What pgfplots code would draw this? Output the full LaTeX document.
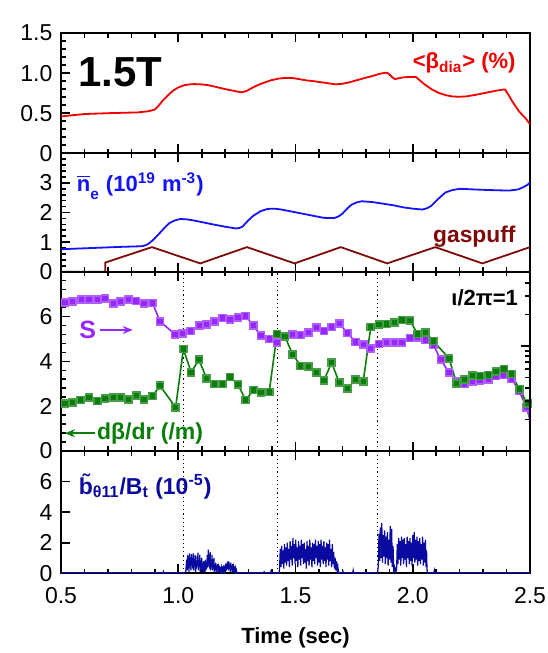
\documentclass[border=0pt]{standalone}
\usepackage{fontspec}
\setmainfont{Liberation Sans}
\usepackage{pgfplots}
\pgfplotsset{compat=1.18}
\usetikzlibrary{arrows.meta}
\definecolor{betared}{RGB}{240,0,0}
\definecolor{neblue}{RGB}{20,20,250}
\definecolor{gasred}{RGB}{128,10,10}
\definecolor{spurple}{RGB}{150,40,255}
\definecolor{dbgreen}{RGB}{10,125,10}
\definecolor{btblue}{RGB}{10,10,160}
\pgfplotsset{
  panel/.style={
    scale only axis, width=234.5pt, anchor=south west,
    xmin=0.5, xmax=2.5,
    xtick={0.5,1,1.5,2,2.5}, minor x tick num=4,
    tick align=inside, ytick pos=left, xtick pos=both,
    axis line style={line width=1pt},
    tick style={line width=0.8pt, black},
    major tick length=4.5pt, minor tick length=2.3pt,
    ticklabel style={font=\fontsize{11.5}{13}\selectfont},
    yticklabel style={xshift=-0.8pt},
    xticklabel=\empty,
  },
  vdot/.style={black, line width=0.55pt, dash pattern=on 0.6pt off 1.5pt},
}
\begin{document}
\begin{tikzpicture}
\useasboundingbox (-30.5pt,-39.85pt) rectangle (243pt,286.65pt);
% ---------- panel 1 ----------
\begin{axis}[panel, at={(0,210pt)}, height=60.15pt,
  ymin=0, ymax=1.5, ytick={0,0.5,1,1.5}, yticklabels={0,0.5,1.0,1.5},
  minor y tick num=4]
\addplot[betared, line width=0.9pt] coordinates {
(0.5,0.46)(0.55,0.475)(0.604,0.49)(0.70,0.50)(0.828,0.51)(0.875,0.525)(0.888,0.536)(0.90,0.545)(0.915,0.59)(0.932,0.65)(0.955,0.72)(0.977,0.78)(1.00,0.82)(1.022,0.846)(1.045,0.858)(1.067,0.863)(1.095,0.86)(1.126,0.85)(1.165,0.825)(1.20,0.80)(1.235,0.78)(1.268,0.76)(1.29,0.775)(1.305,0.80)(1.335,0.845)(1.365,0.88)(1.395,0.91)(1.425,0.93)(1.455,0.94)(1.484,0.94)(1.515,0.925)(1.544,0.91)(1.575,0.90)(1.60,0.89)(1.635,0.875)(1.67,0.86)(1.695,0.865)(1.723,0.88)(1.76,0.91)(1.797,0.94)(1.83,0.965)(1.857,0.99)(1.875,1.0)(1.89,1.005)(1.90,0.985)(1.912,0.95)(1.924,0.925)(1.94,0.935)(1.96,0.947)(1.985,0.952)(2.014,0.95)(2.03,0.91)(2.05,0.86)(2.08,0.80)(2.11,0.754)(2.14,0.725)(2.17,0.708)(2.20,0.705)(2.23,0.71)(2.27,0.73)(2.32,0.76)(2.355,0.78)(2.387,0.795)(2.394,0.796)(2.41,0.72)(2.424,0.65)(2.44,0.58)(2.454,0.52)(2.48,0.44)(2.5,0.364)};
\node[anchor=west, inner sep=0, font=\fontsize{21}{23}\selectfont\bfseries] at (rel axis cs:0.036,0.676) {1.5T};
\node[anchor=east, inner sep=0, text=betared, font=\fontsize{11}{13}\selectfont\bfseries] at (rel axis cs:0.970,0.75) {<β\textsubscript{dia}> (\%)};
\node[anchor=base east, inner sep=0, font=\fontsize{10.3}{12}\selectfont\bfseries] at (rel axis cs:1,1) [yshift=3pt] {Shot\#50925};
\end{axis}
% ---------- panel 2 ----------
\begin{axis}[panel, at={(0,150.8pt)}, height=59.2pt,
  ymin=0, ymax=4, ytick={0,1,2,3,4}, yticklabels={0,1,2,3,},
  minor y tick num=4]
\addplot[neblue, line width=0.9pt] coordinates {
(0.5,0.76)(0.6,0.79)(0.679,0.815)(0.76,0.84)(0.843,0.86)(0.86,0.89)(0.873,0.94)(0.895,1.09)(0.918,1.28)(0.94,1.47)(0.962,1.64)(0.985,1.73)(1.007,1.78)(1.035,1.77)(1.067,1.73)(1.11,1.66)(1.156,1.585)(1.20,1.52)(1.246,1.46)(1.262,1.48)(1.275,1.53)(1.297,1.72)(1.32,1.89)(1.35,2.04)(1.38,2.12)(1.41,2.13)(1.44,2.10)(1.485,2.03)(1.53,1.96)(1.575,1.89)(1.62,1.82)(1.663,1.81)(1.682,1.86)(1.70,1.96)(1.72,2.13)(1.738,2.26)(1.76,2.34)(1.783,2.38)(1.83,2.35)(1.872,2.30)(1.92,2.24)(1.962,2.17)(2.00,2.13)(2.04,2.10)(2.06,2.14)(2.08,2.23)(2.11,2.47)(2.14,2.68)(2.17,2.76)(2.20,2.80)(2.26,2.78)(2.32,2.76)(2.41,2.74)(2.45,2.78)(2.47,2.85)(2.49,2.94)(2.5,3.02)};
\addplot[gasred, line width=0.9pt] coordinates {
(0.5,0)(0.689,0)(0.689,0.31)(0.888,0.83)(1.094,0.28)(1.293,0.83)(1.496,0.28)(1.693,0.83)(1.891,0.28)(2.096,0.83)(2.297,0.28)(2.5,0.83)};
\node[anchor=west, inner sep=0, text=neblue, font=\fontsize{11}{13}\selectfont\bfseries] at (rel axis cs:0.033,0.72) {$\overline{\mbox{\bfseries n}}$\raisebox{-0.45ex}{\textsubscript{e}} (10\textsuperscript{19} m\textsuperscript{-3})};
\node[anchor=east, inner sep=0, text=gasred, font=\fontsize{11.4}{13}\selectfont\bfseries] at (rel axis cs:0.970,0.293) {gaspuff};
\end{axis}
% ---------- panel 3 ----------
\begin{axis}[panel, at={(0,61.15pt)}, height=89.65pt,
  ymin=0, ymax=8, ytick={0,2,4,6,8}, yticklabels={0,2,4,6,},
  minor y tick num=4]
\addplot[vdot] coordinates {(1.022,0)(1.022,8)};
\addplot[vdot] coordinates {(1.422,0)(1.422,8)};
\addplot[vdot] coordinates {(1.850,0)(1.850,8)};
\addplot[spurple, line width=0.8pt, mark=square*, mark size=1.75pt, mark options={fill=spurple, draw=spurple!75}] coordinates {
(0.517,6.63)(0.548,6.66)(0.587,6.76)(0.620,6.75)(0.655,6.75)(0.688,6.81)(0.723,6.57)(0.754,6.66)(0.787,6.76)(0.820,6.69)(0.854,6.58)(0.890,6.61)(0.922,5.79)(0.986,5.20)(1.019,5.25)(1.053,5.35)(1.090,5.59)(1.121,5.65)(1.154,5.77)(1.188,5.94)(1.221,5.88)(1.254,5.96)(1.288,6.03)(1.320,5.59)(1.353,5.14)(1.388,4.99)(1.421,4.84)(1.455,5.13)(1.488,5.20)(1.522,5.17)(1.555,5.29)(1.590,5.50)(1.621,5.36)(1.654,5.54)(1.687,5.69)(1.721,5.26)(1.757,4.87)(1.789,4.75)(1.821,4.58)(1.856,4.77)(1.889,4.84)(1.921,4.84)(1.955,4.84)(1.988,5.04)(2.021,5.07)(2.055,4.96)(2.088,4.73)(2.120,4.07)(2.155,3.49)(2.187,3.09)(2.220,2.99)(2.254,3.09)(2.287,3.14)(2.322,3.18)(2.355,3.34)(2.386,3.39)(2.422,3.21)(2.454,2.67)(2.486,1.93)};
\addplot[spurple, line width=0.8pt] coordinates {(2.486,1.93)(2.5,1.38)};
\addplot[dbgreen, line width=0.8pt, mark=square*, mark size=1.75pt, mark options={fill=dbgreen, draw=dbgreen!75}] coordinates {
(0.517,2.12)(0.548,2.17)(0.584,2.27)(0.620,2.39)(0.655,2.23)(0.688,2.35)(0.723,2.38)(0.755,2.38)(0.787,2.29)(0.822,2.47)(0.854,2.29)(0.890,2.45)(0.922,2.91)(0.989,1.95)(1.022,4.55)(1.055,3.51)(1.088,4.07)(1.121,3.24)(1.154,2.99)(1.188,2.99)(1.221,3.30)(1.254,2.97)(1.288,2.27)(1.320,2.72)(1.353,2.62)(1.388,2.64)(1.421,5.22)(1.455,5.10)(1.488,4.31)(1.522,3.80)(1.555,3.76)(1.590,3.51)(1.621,3.14)(1.654,3.94)(1.687,3.05)(1.721,2.79)(1.757,3.19)(1.789,3.11)(1.821,5.53)(1.856,5.65)(1.889,5.66)(1.921,5.74)(1.955,5.84)(1.988,5.81)(2.021,5.22)(2.055,5.29)(2.088,4.90)(2.155,4.13)(2.187,3.02)(2.220,3.19)(2.254,3.36)(2.287,3.34)(2.322,3.39)(2.355,3.54)(2.389,3.66)(2.422,3.43)(2.454,2.76)(2.489,2.12)};
\addplot[dbgreen, line width=0.8pt] coordinates {(2.489,2.12)(2.5,1.9)};
\node[anchor=east, inner sep=0, font=\fontsize{11}{13}\selectfont\bfseries] at (rel axis cs:0.975,0.852) {ι/2π=1};
\node[anchor=center, inner sep=0, text=spurple, font=\fontsize{12.5}{14}\selectfont\bfseries] at (rel axis cs:0.057,0.675) {S};
\draw[spurple, line width=0.8pt, -{Stealth[length=5pt,width=4pt]}] (rel axis cs:0.083,0.675) -- (rel axis cs:0.153,0.675);
\draw[dbgreen, line width=0.8pt, -{Stealth[length=5pt,width=4pt]}] (rel axis cs:0.072,0.099) -- (rel axis cs:0.0085,0.099);
\node[anchor=west, inner sep=0, text=dbgreen, font=\fontsize{11.5}{13}\selectfont\bfseries] at (rel axis cs:0.076,0.099) {dβ/dr (/m)};
\end{axis}
% right log axis of panel 3
\begin{axis}[scale only axis, width=234.5pt, height=89.65pt, anchor=south west, at={(0,61.15pt)},
  xmin=0.5, xmax=2.5, axis x line=none, axis y line*=right,
  ymode=log, ymin=0.1, ymax=5.1, tick align=inside,
  axis line style={line width=1pt}, tick style={line width=0.8pt, black},
  major tick length=4.5pt, minor tick length=2.3pt, yticklabel=\empty]
\addplot[draw=none] coordinates {(1,1)};
\end{axis}
% ---------- panel 4 ----------
\begin{axis}[panel, at={(0,0)}, height=61.15pt,
  ymin=0, ymax=8, ytick={0,2,4,6,8}, yticklabels={0,2,4,6,},
  xticklabels={0.5,1.0,1.5,2.0,2.5}, xticklabel style={yshift=-3.5pt},
  xlabel={Time (sec)},
  x label style={at={(axis description cs:0.5,0)}, anchor=center, yshift=-32.3pt, font=\fontsize{11}{13}\selectfont\bfseries}]
\addplot[vdot] coordinates {(1.022,0)(1.022,8)};
\addplot[vdot] coordinates {(1.422,0)(1.422,8)};
\addplot[vdot] coordinates {(1.850,0)(1.850,8)};
\addplot[btblue, line width=0.6pt] coordinates {
(0.5,0.03)(0.935,0.03)(0.937,0.12)(0.939,0.03)(1.028,0.03)
(1.032,0.1)(1.036,0.9)(1.038,0.2)(1.040,1.2)(1.042,0.3)(1.044,1.1)(1.046,0.1)(1.048,1.3)(1.050,0.4)(1.052,0.8)(1.054,0.2)(1.056,1.25)(1.058,0.5)(1.060,1.0)(1.062,0.3)(1.064,1.3)(1.066,0.2)(1.068,0.9)(1.070,0.4)(1.072,1.2)(1.074,0.1)(1.076,0.7)(1.078,0.3)(1.080,1.1)(1.082,0.5)(1.084,1.35)(1.086,0.2)(1.088,0.9)(1.090,0.4)(1.092,1.2)(1.094,0.1)(1.096,0.8)(1.098,0.3)(1.100,1.0)(1.102,0.2)(1.104,0.6)(1.106,0.1)(1.108,0.8)(1.110,0.3)(1.112,0.5)(1.114,0.1)(1.116,0.9)(1.118,0.2)(1.120,0.7)(1.122,0.3)(1.124,1.2)(1.126,0.4)(1.128,1.55)(1.130,0.5)(1.132,1.1)(1.134,0.3)(1.136,1.4)(1.138,0.2)(1.140,0.9)(1.142,0.4)(1.144,1.2)(1.146,0.2)(1.148,0.8)(1.150,0.3)(1.152,1.0)(1.154,0.1)(1.156,0.6)(1.158,0.2)(1.160,0.7)(1.162,0.1)(1.164,0.5)(1.166,0.2)(1.168,0.6)(1.170,0.1)(1.172,0.4)(1.174,0.2)(1.176,0.5)(1.178,0.05)(1.180,0.4)(1.182,0.1)(1.184,0.35)(1.186,0.1)(1.188,0.45)(1.190,0.05)(1.192,0.3)(1.194,0.1)(1.196,0.5)(1.198,0.2)(1.200,0.4)(1.202,0.1)(1.204,0.6)(1.206,0.2)(1.208,0.7)(1.210,0.3)(1.212,0.8)(1.214,0.2)(1.216,0.75)(1.218,0.3)(1.220,0.6)(1.222,0.1)(1.224,0.7)(1.226,0.2)(1.228,0.5)(1.230,0.1)(1.232,0.6)(1.234,0.2)(1.236,0.4)(1.238,0.1)(1.240,0.45)(1.242,0.1)(1.244,0.3)(1.246,0.05)(1.248,0.2)(1.250,0.05)(1.252,0.03)
(1.364,0.03)(1.366,0.1)(1.368,0.03)(1.394,0.03)(1.396,0.15)(1.398,0.03)(1.430,0.03)
(1.432,0.3)(1.435,1.6)(1.438,0.4)(1.441,1.8)(1.444,0.6)(1.447,1.5)(1.450,0.3)(1.453,1.9)(1.456,0.7)(1.459,1.7)(1.462,0.5)(1.465,2.0)(1.468,0.8)(1.471,1.6)(1.474,0.4)(1.477,2.1)(1.480,0.9)(1.483,1.8)(1.486,0.5)(1.489,2.3)(1.492,1.0)(1.495,1.9)(1.498,0.6)(1.501,2.2)(1.504,0.8)(1.507,1.7)(1.510,0.4)(1.513,2.1)(1.516,0.9)(1.519,1.8)(1.522,0.5)(1.525,2.2)(1.528,1.0)(1.531,1.9)(1.534,0.6)(1.537,2.0)(1.540,0.7)(1.543,1.6)(1.546,0.3)(1.549,2.1)(1.552,0.8)(1.555,1.8)(1.558,0.5)(1.561,2.2)(1.564,0.9)(1.567,1.7)(1.570,0.4)(1.573,2.0)(1.576,0.8)(1.579,1.9)(1.582,0.6)(1.585,2.2)(1.588,1.0)(1.591,1.8)(1.594,0.5)(1.597,2.1)(1.600,0.7)(1.603,1.9)(1.606,0.4)(1.609,2.2)(1.612,0.9)(1.615,1.8)(1.618,0.6)(1.621,2.1)(1.624,0.8)(1.627,1.7)(1.630,0.4)(1.633,2.0)(1.636,0.9)(1.639,1.9)(1.642,0.5)(1.645,2.2)(1.648,0.8)(1.651,1.6)(1.654,0.4)(1.657,1.9)(1.660,0.6)(1.663,1.4)(1.666,0.3)(1.669,1.0)(1.672,0.2)(1.675,0.8)(1.678,0.1)(1.681,0.4)(1.684,0.03)
(1.700,0.03)(1.702,0.15)(1.704,0.03)(1.744,0.03)(1.746,0.2)(1.748,0.03)(1.850,0.03)
(1.853,0.5)(1.856,2.6)(1.859,0.8)(1.862,3.0)(1.865,1.0)(1.868,3.3)(1.871,0.7)(1.874,2.5)(1.877,1.1)(1.880,2.8)(1.883,0.6)(1.886,2.4)(1.889,1.0)(1.892,2.7)(1.895,0.5)(1.898,2.2)(1.901,0.9)(1.904,3.1)(1.907,0.7)(1.910,2.9)(1.913,0.4)(1.916,1.8)(1.919,0.2)(1.922,0.4)(1.925,0.1)(1.928,0.3)(1.931,0.2)(1.934,1.9)(1.937,0.6)(1.940,2.3)(1.943,0.9)(1.946,2.1)(1.949,0.5)(1.952,2.4)(1.955,1.0)(1.958,2.2)(1.961,0.6)(1.964,2.3)(1.967,0.9)(1.970,1.9)(1.973,0.4)(1.976,2.4)(1.979,1.0)(1.982,2.1)(1.985,0.6)(1.988,2.3)(1.991,0.8)(1.994,2.0)(1.997,0.5)(2.000,2.5)(2.003,1.0)(2.006,2.7)(2.009,0.7)(2.012,2.2)(2.015,0.9)(2.018,2.4)(2.021,0.5)(2.024,2.1)(2.027,0.8)(2.030,2.3)(2.033,0.6)(2.036,1.9)(2.039,0.9)(2.042,2.4)(2.045,0.5)(2.048,2.0)(2.051,0.7)(2.054,2.2)(2.057,0.4)(2.059,1.5)(2.061,0.2)(2.063,0.03)
(2.090,0.03)(2.092,0.2)(2.094,0.03)(2.5,0.03)};
\node[anchor=west, inner sep=0, text=btblue, font=\fontsize{11.5}{13}\selectfont\bfseries] at (rel axis cs:0.037,0.71) {\~{b}\textsubscript{θ11}/B\textsubscript{t} (10\textsuperscript{-5})};
\end{axis}
\end{tikzpicture}
\end{document}
